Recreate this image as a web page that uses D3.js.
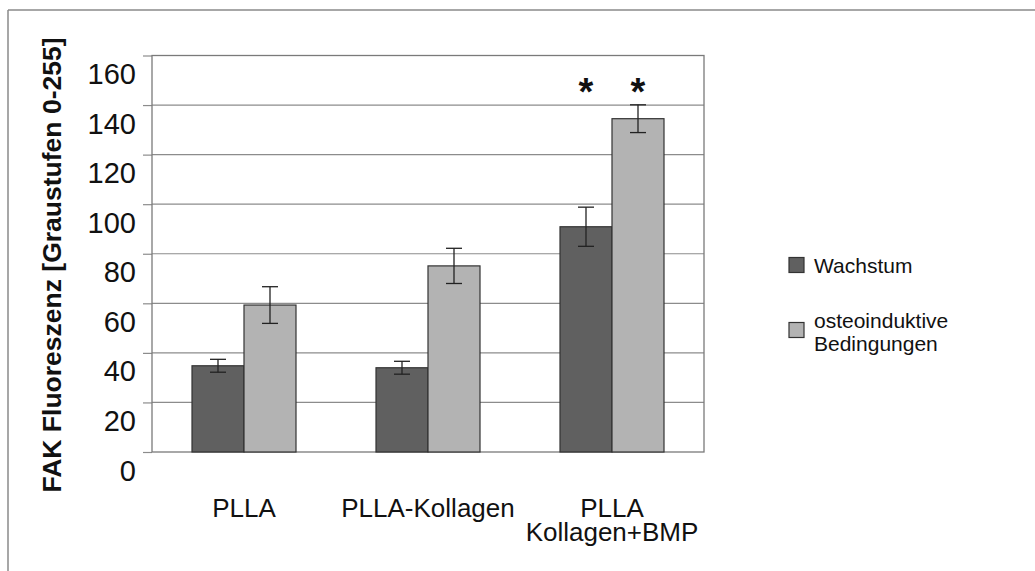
<!DOCTYPE html>
<html>
<head>
<meta charset="utf-8">
<script src="https://cdn.jsdelivr.net/npm/d3@7"></script>
<style>
  html, body { margin: 0; padding: 0; background: #fff; }
  svg { display: block; font-family: "Liberation Sans", Arial, sans-serif; }
</style>
</head>
<body>
<svg id="chart" width="1035" height="571"></svg>
<script>
// FAK fluorescence (grey levels 0-255) per scaffold and culture condition
const categories = [["PLLA"], ["PLLA-Kollagen"], ["PLLA", "Kollagen+BMP"]];
const seriesNames = ["Wachstum", ["osteoinduktive", "Bedingungen"]];
const wachstum = [34.8, 34.0, 90.9];
const wachstumErr = [2.6, 2.6, 7.9];
const osteo = [59.3, 75.1, 134.5];
const osteoErr = [7.4, 7.1, 5.6];
const yTicks = [0, 20, 40, 60, 80, 100, 120, 140, 160];
const significant = [false, false, true]; // groups marked with *

const colors = ["#606060", "#b3b3b3"];
const svg = d3.select("#chart");

// outer frame lines
svg.append("line").attr("x1", 8).attr("x2", 1035).attr("y1", 10).attr("y2", 10)
  .attr("stroke", "#8a8a8a").attr("stroke-width", 1.5);
svg.append("line").attr("x1", 8).attr("x2", 8).attr("y1", 10).attr("y2", 571)
  .attr("stroke", "#8a8a8a").attr("stroke-width", 1.5);

const plot = { left: 152, right: 704, top: 55.5, bottom: 452 };

const catKeys = categories.map(c => c.join(" "));
const x0 = d3.scaleBand().domain(catKeys)
  .range([plot.left, plot.right])
  .paddingInner(80 / 184).paddingOuter(40 / 184);
const x1 = d3.scaleBand().domain([0, 1]).range([0, x0.bandwidth()]);
const y = d3.scaleLinear().domain([0, 160]).range([plot.bottom, plot.top]);

// gridlines
svg.append("g").selectAll("line").data(yTicks.filter(t => t > 0 && t < 160)).join("line")
  .attr("x1", plot.left).attr("x2", plot.right)
  .attr("y1", d => y(d)).attr("y2", d => y(d))
  .attr("stroke", "#8c8c8c").attr("stroke-width", 1.2);

// y axis: tick marks and labels (labels sit below their gridline)
const yAxis = d3.axisLeft(y).tickValues(yTicks).tickSize(9).tickSizeOuter(0);
const ya = svg.append("g").attr("transform", `translate(${plot.left},0)`).call(yAxis);
ya.select(".domain").remove();
ya.selectAll(".tick line").attr("stroke", "#8c8c8c").attr("stroke-width", 1.2);
ya.selectAll(".tick text")
  .attr("x", -16).attr("dy", 28)
  .attr("font-size", 29).attr("fill", "#111")
  .attr("font-family", "Liberation Sans, Arial, sans-serif");

// plot frame
svg.append("rect")
  .attr("x", plot.left).attr("y", plot.top)
  .attr("width", plot.right - plot.left).attr("height", plot.bottom - plot.top)
  .attr("fill", "none").attr("stroke", "#7a7a7a").attr("stroke-width", 1.3);

// bars
const rows = catKeys.map((k, i) => ({ key: k, vals: [
  { s: 0, v: wachstum[i], e: wachstumErr[i] },
  { s: 1, v: osteo[i], e: osteoErr[i] }
]}));

const groups = svg.append("g").selectAll("g").data(rows).join("g")
  .attr("transform", d => `translate(${x0(d.key)},0)`);

groups.selectAll("rect").data(d => d.vals).join("rect")
  .attr("x", d => x1(d.s)).attr("width", x1.bandwidth())
  .attr("y", d => y(d.v)).attr("height", d => y(0) - y(d.v))
  .attr("fill", d => colors[d.s]).attr("stroke", "#333").attr("stroke-width", 1.2);

// error bars
const cap = 8;
const eb = groups.selectAll("g.err").data(d => d.vals).join("g").attr("class", "err")
  .attr("stroke", "#222").attr("stroke-width", 1.3);
eb.append("line")
  .attr("x1", d => x1(d.s) + x1.bandwidth() / 2).attr("x2", d => x1(d.s) + x1.bandwidth() / 2)
  .attr("y1", d => y(d.v + d.e)).attr("y2", d => y(d.v - d.e));
eb.append("line")
  .attr("x1", d => x1(d.s) + x1.bandwidth() / 2 - cap).attr("x2", d => x1(d.s) + x1.bandwidth() / 2 + cap)
  .attr("y1", d => y(d.v + d.e)).attr("y2", d => y(d.v + d.e));
eb.append("line")
  .attr("x1", d => x1(d.s) + x1.bandwidth() / 2 - cap).attr("x2", d => x1(d.s) + x1.bandwidth() / 2 + cap)
  .attr("y1", d => y(d.v - d.e)).attr("y2", d => y(d.v - d.e));

// significance asterisks
groups.filter((d, i) => significant[i]).selectAll("text.star").data(d => d.vals).join("text")
  .attr("class", "star")
  .attr("x", d => x1(d.s) + x1.bandwidth() / 2)
  .attr("y", y(160) + 49)
  .attr("text-anchor", "middle")
  .attr("font-size", 38).attr("font-weight", "bold").attr("fill", "#111")
  .text("*");

// category labels
const cl = svg.append("g").selectAll("text").data(categories).join("text")
  .attr("x", (d, i) => x0(catKeys[i]) + x0.bandwidth() / 2)
  .attr("y", 516.5)
  .attr("text-anchor", "middle").attr("font-size", 26).attr("fill", "#111");
cl.selectAll("tspan").data(d => d).join("tspan")
  .attr("x", function() { return this.parentNode.getAttribute("x"); })
  .attr("dy", (d, i) => i === 0 ? 0 : 24.5)
  .text(d => d);

// y axis title
svg.append("text")
  .attr("transform", "translate(61,265) rotate(-90)")
  .attr("text-anchor", "middle")
  .attr("font-size", 26.5).attr("font-weight", "bold").attr("fill", "#111")
  .text("FAK Fluoreszenz [Graustufen 0-255]");

// legend
const legendY = [257.5, 322.5];
const lg = svg.append("g").selectAll("g").data(seriesNames).join("g")
  .attr("transform", (d, i) => `translate(789,${legendY[i]})`);
lg.append("rect").attr("width", 15).attr("height", 15)
  .attr("fill", (d, i) => colors[i]).attr("stroke", "#333").attr("stroke-width", 1.2);
const lt = lg.append("text").attr("x", 25)
  .attr("y", (d, i) => i === 0 ? 15.8 : 5.8)
  .attr("font-size", 21).attr("fill", "#111");
lt.selectAll("tspan").data(d => Array.isArray(d) ? d : [d]).join("tspan")
  .attr("x", 25).attr("dy", (d, i) => i === 0 ? 0 : 22.5)
  .text(d => d);
</script>
</body>
</html>
